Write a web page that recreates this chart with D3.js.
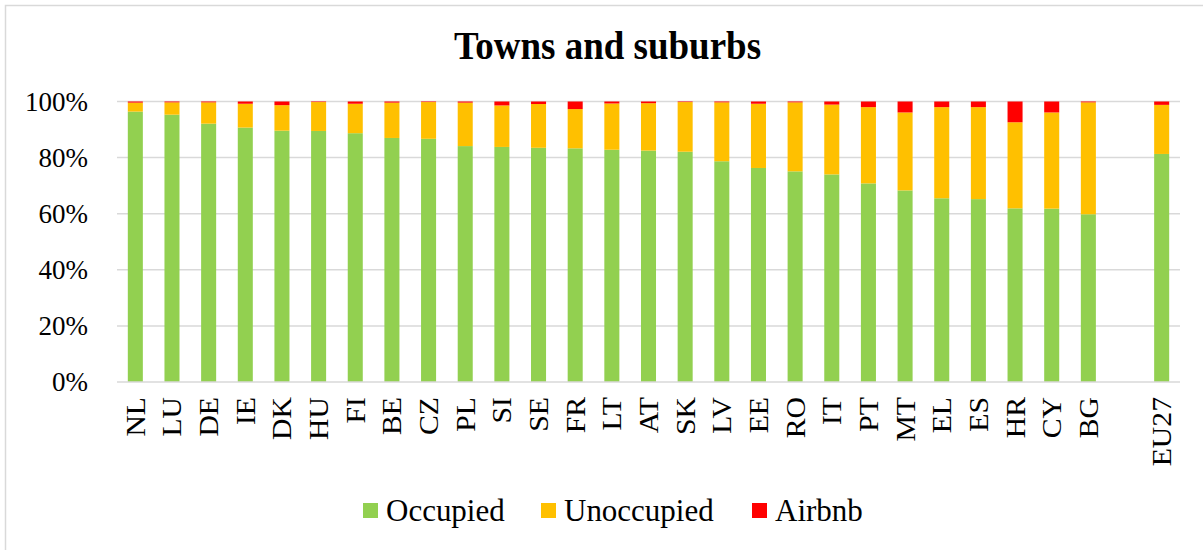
<!DOCTYPE html>
<html>
<head>
<meta charset="utf-8">
<script src="https://cdn.jsdelivr.net/npm/d3@7"></script>
<style>
  html, body { margin: 0; padding: 0; background: #fff; }
  svg { display: block; font-family: "Liberation Serif", "Times New Roman", serif; }
</style>
</head>
<body>
<svg id="chart" width="1203" height="550"></svg>
<script>
// Dwelling status in towns and suburbs, share of dwellings (%)
const countries = ["NL","LU","DE","IE","DK","HU","FI","BE","CZ","PL","SI","SE","FR","LT","AT",
                   "SK","LV","EE","RO","IT","PT","MT","EL","ES","HR","CY","BG","EU27"];
const occupied   = [96.4,95.3,92.1,90.7,89.6,89.5,88.7,87.0,86.7,84.1,83.8,83.5,83.3,82.8,82.5,
                    82.1,78.7,76.3,75.1,74.0,70.8,68.3,65.5,65.2,61.9,61.8,59.8,81.3];
const unoccupied = [3.2,4.4,7.6,8.5,9.1,10.3,10.5,12.6,13.1,15.5,14.8,15.6,14.0,16.5,16.9,
                    17.7,21.0,22.9,24.6,24.9,27.2,27.8,32.5,32.8,30.7,34.3,39.9,17.5];
const airbnb     = [0.4,0.3,0.3,0.8,1.3,0.2,0.8,0.4,0.2,0.4,1.4,0.9,2.7,0.7,0.6,
                    0.2,0.3,0.8,0.3,1.1,2.0,3.9,2.0,2.0,7.4,3.9,0.3,1.2];
const seriesNames = ["Occupied","Unoccupied","Airbnb"];
const seriesColors = ["#92D050","#FFC000","#FF0000"];
const yTicks = [0, 20, 40, 60, 80, 100];
const GAP = "__gap__";   // empty slot separating the EU aggregate

const rows = countries.map((c, i) => ({
  country: c, Occupied: occupied[i], Unoccupied: unoccupied[i], Airbnb: airbnb[i]
}));

const svg = d3.select("#chart");

// outer frame (top and left edges visible)
svg.append("rect")
  .attr("x", 5.5).attr("y", 5.5).attr("width", 1300).attr("height", 700)
  .attr("fill", "none").attr("stroke", "#d9d9d9").attr("stroke-width", 1.5);

const plot = { left: 117, right: 1180, top: 101.5, bottom: 382 };

const domain = countries.slice(0, -1).concat([GAP, countries[countries.length - 1]]);
const x = d3.scaleBand().domain(domain)
  .range([plot.left, plot.right]).paddingInner(0.59).paddingOuter(0.295);
const y = d3.scaleLinear().domain([0, 100]).range([plot.bottom, plot.top]);

// gridlines
svg.append("g").selectAll("line").data(yTicks.filter(t => t > 0)).join("line")
  .attr("x1", plot.left).attr("x2", plot.right)
  .attr("y1", d => y(d)).attr("y2", d => y(d))
  .attr("stroke", "#d9d9d9").attr("stroke-width", 1.5);

// y axis labels
const yAxis = svg.append("g").attr("transform", `translate(${plot.left},0)`)
  .call(d3.axisLeft(y).tickValues(yTicks).tickFormat(d => d + "%").tickSize(0).tickPadding(29));
yAxis.select(".domain").remove();
yAxis.selectAll("text").attr("font-size", 27).attr("fill", "#000")
  .attr("font-family", "Liberation Serif");

// stacked bars
const stack = d3.stack().keys(seriesNames);
const layers = stack(rows);
svg.append("g").selectAll("g").data(layers).join("g")
  .attr("fill", (d, i) => seriesColors[i])
  .selectAll("rect").data(d => d).join("rect")
  .attr("x", d => x(d.data.country))
  .attr("width", x.bandwidth())
  .attr("y", d => y(d[1]))
  .attr("height", d => y(d[0]) - y(d[1]));

// x axis with vertical country labels
const xAxis = svg.append("g").attr("transform", `translate(0,${plot.bottom})`)
  .call(d3.axisBottom(x).tickSize(0).tickFormat(d => d === GAP ? "" : d));
xAxis.select(".domain").attr("stroke", "#d9d9d9").attr("stroke-width", 1.5)
  .attr("d", `M${plot.left},0H${plot.right}`);
xAxis.selectAll("text")
  .attr("font-size", 27).attr("fill", "#000").attr("font-family", "Liberation Serif")
  .attr("text-anchor", "end").attr("dy", "0.35em")
  .attr("transform", "translate(0,15) rotate(-90) scale(1.1,1)")
  .attr("x", 0).attr("y", 0);

// title
svg.append("text").attr("transform", "translate(607.5,59) scale(1,1.08)")
  .attr("text-anchor", "middle").attr("font-size", 37).attr("font-weight", "bold")
  .text("Towns and suburbs");

// legend
const legendPos = [363, 541, 752];
const legend = svg.append("g").selectAll("g").data(seriesNames).join("g")
  .attr("transform", (d, i) => `translate(${legendPos[i]},503)`);
legend.append("rect").attr("width", 15).attr("height", 15)
  .attr("fill", (d, i) => seriesColors[i]);
legend.append("text").attr("transform", "translate(23,18) scale(1,1.04)")
  .attr("font-size", 31).text(d => d);
</script>
</body>
</html>
